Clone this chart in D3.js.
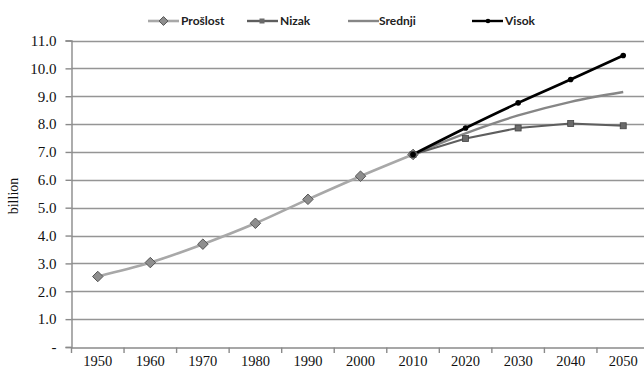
<!DOCTYPE html>
<html><head><meta charset="utf-8">
<script src="https://cdn.jsdelivr.net/npm/d3@7"></script>
<style>body{margin:0;background:#fff;}svg{display:block;}</style>
</head><body>
<script>
const years = ["1950","1960","1970","1980","1990","2000","2010","2020","2030","2040","2050"];
const pastYears = ["1950","1960","1970","1980","1990","2000","2010"];
const pastValues = [2.53, 3.03, 3.69, 4.44, 5.30, 6.13, 6.91];
const projYears = ["2010","2020","2030","2040","2050"];
const lowValues = [6.91, 7.48, 7.86, 8.02, 7.94];
const mediumValues = [6.91, 7.67, 8.31, 8.80, 9.15];
const highValues = [6.91, 7.86, 8.76, 9.60, 10.46];
const yTicks = [0,1,2,3,4,5,6,7,8,9,10,11];
const yTickLabels = ["-","1.0","2.0","3.0","4.0","5.0","6.0","7.0","8.0","9.0","10.0","11.0"];
const seriesNames = ["Prošlost","Nizak","Srednji","Visok"];

const W=644,H=369;
const svg=d3.select("body").append("svg").attr("width",W).attr("height",H);
const x=d3.scaleBand().domain(years).range([71.5,649.5]);
const y=d3.scaleLinear().domain([0,11]).range([347,40.5]);
const cx=d=>x(d)+x.bandwidth()/2;

// gridlines
svg.append("g").selectAll("line").data(yTicks.filter(v=>v>0)).join("line")
  .attr("x1",71.5).attr("x2",W).attr("y1",d=>Math.round(y(d))+0.5).attr("y2",d=>Math.round(y(d))+0.5)
  .attr("stroke","#959595").attr("stroke-width",1.4);

// y axis
const ya=svg.append("g").attr("transform","translate(71.5,0)")
  .call(d3.axisLeft(y).tickValues(yTicks).tickFormat((d,i)=>yTickLabels[i]).tickSize(6).tickPadding(9));
ya.select(".domain").attr("stroke","#8a8a8a").attr("stroke-width",1.4);
ya.selectAll(".tick line").attr("stroke","#8a8a8a").attr("stroke-width",1.4);
ya.selectAll(".tick text").attr("font-family","Liberation Serif").attr("font-size",15).attr("fill","#111");

// x axis
const xa=svg.append("g").attr("transform","translate(0,347.5)")
  .call(d3.axisBottom(x).tickSize(0).tickPadding(8));
xa.select(".domain").attr("stroke","#8a8a8a").attr("stroke-width",1.4);
xa.selectAll(".tick text").attr("font-family","Liberation Serif").attr("font-size",14.5).attr("fill","#111");
// x tick marks at band boundaries
svg.append("g").selectAll("line").data(years).join("line")
  .attr("x1",d=>x(d)).attr("x2",d=>x(d)).attr("y1",347.5).attr("y2",353)
  .attr("stroke","#8a8a8a").attr("stroke-width",1.4);

// y label
svg.append("text").attr("transform","translate(18,196) rotate(-90)").attr("text-anchor","middle")
  .attr("font-family","Liberation Serif").attr("font-size",14).attr("fill","#111").text("billion");

const line=d3.line().curve(d3.curveMonotoneX);
function pts(ys,vs){return ys.map((yr,i)=>[cx(yr),y(vs[i])]);}

// lines
svg.append("path").attr("d",line(pts(pastYears,pastValues))).attr("fill","none").attr("stroke","#a8a8a8").attr("stroke-width",2.6);
svg.append("path").attr("d",line(pts(projYears,mediumValues))).attr("fill","none").attr("stroke","#868686").attr("stroke-width",2.4);
svg.append("path").attr("d",d3.line()(pts(projYears,lowValues))).attr("fill","none").attr("stroke","#5e5e5e").attr("stroke-width",2);
svg.append("path").attr("d",line(pts(projYears,highValues))).attr("fill","none").attr("stroke","#000").attr("stroke-width",2.6);

// markers
const diamond=d3.symbol().type(d3.symbolDiamond2).size(70);
svg.append("g").selectAll("path").data(pts(pastYears,pastValues)).join("path")
  .attr("d",diamond).attr("transform",d=>`translate(${d[0]},${d[1]})`)
  .attr("fill","#8e8e8e").attr("stroke","#555").attr("stroke-width",1);
svg.append("g").selectAll("rect").data(pts(projYears,lowValues)).join("rect")
  .attr("x",d=>d[0]-3).attr("y",d=>d[1]-3).attr("width",6).attr("height",6)
  .attr("fill","#6a6a6a").attr("stroke","#444").attr("stroke-width",0.8);
svg.append("g").selectAll("circle").data(pts(projYears,highValues)).join("circle")
  .attr("cx",d=>d[0]).attr("cy",d=>d[1]).attr("r",2.8).attr("fill","#000");

// legend
const legX=[148,247,348,472];
const leg=svg.append("g");
seriesNames.forEach((n,i)=>{
  const g=leg.append("g").attr("transform",`translate(${legX[i]},21)`);
  const col=["#a8a8a8","#5e5e5e","#868686","#000"][i];
  g.append("line").attr("x1",0).attr("x2",31).attr("y1",0).attr("y2",0).attr("stroke",col).attr("stroke-width",i==0?2.6:2.4);
  if(i===0) g.append("path").attr("d",d3.symbol().type(d3.symbolDiamond2).size(50)).attr("transform","translate(15.5,0)").attr("fill","#8e8e8e").attr("stroke","#555");
  if(i===1) g.append("rect").attr("x",12.5).attr("y",-2.5).attr("width",5).attr("height",5).attr("fill","#6a6a6a");
  if(i===3) g.append("circle").attr("cx",16).attr("cy",0).attr("r",2.3).attr("fill","#000");
  g.append("text").attr("x",i==2?31:33).attr("y",4).attr("font-family","Lato").attr("font-weight","bold")
   .attr("font-size",12).attr("fill","#222").text(n);
});
</script>
</body></html>
